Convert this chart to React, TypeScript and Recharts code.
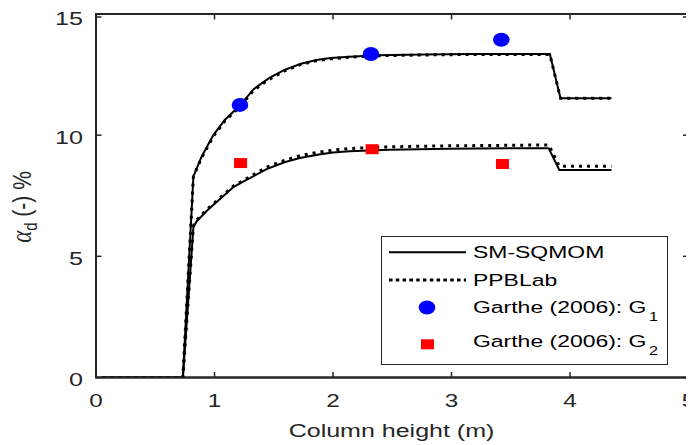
import React from "react";
import {
  ComposedChart,
  Line,
  Scatter,
  XAxis,
  YAxis,
  Legend,
  Label,
  ReferenceArea,
} from "recharts";

// ---------- data ----------
const xTicks = [0, 1, 2, 3, 4, 5];
const yTicks = [0, 5, 10, 15];
const xDomain = [0, 5];
const yDomain = [0, 15];

const g1SolidX = [0.05, 0.733, 0.822, 0.89, 0.99, 1.09, 1.21, 1.33, 1.46, 1.59, 1.73, 1.86, 1.98, 2.14, 2.38, 2.77, 3.17, 3.57, 3.83, 3.92, 4.35];
const g1SolidY = [0, 0, 8.3, 9.1, 10.0, 10.65, 11.2, 11.9, 12.35, 12.69, 12.95, 13.1, 13.18, 13.24, 13.3, 13.33, 13.35, 13.35, 13.35, 11.52, 11.52];
const g1DotY = [0, 0, 8.3, 9.05, 9.95, 10.6, 11.15, 11.85, 12.3, 12.65, 12.92, 13.07, 13.15, 13.22, 13.28, 13.31, 13.33, 13.33, 13.33, 11.52, 11.52];

const g2X = [0.05, 0.733, 0.822, 0.85, 0.94, 1.02, 1.16, 1.25, 1.44, 1.59, 1.72, 1.88, 2.0, 2.14, 2.48, 2.97, 3.47, 3.82, 3.91, 4.35];
const g2SolidY = [0, 0, 6.2, 6.45, 6.9, 7.25, 7.86, 8.1, 8.6, 8.88, 9.06, 9.2, 9.28, 9.34, 9.4, 9.44, 9.46, 9.46, 8.56, 8.56];
const g2DotY = [0, 0, 6.25, 6.5, 6.95, 7.3, 7.9, 8.15, 8.68, 8.96, 9.15, 9.3, 9.38, 9.45, 9.52, 9.56, 9.58, 9.6, 8.72, 8.72];

const garthe1X = [1.215, 2.32, 3.42];
const garthe1Y = [11.25, 13.35, 13.94];
const garthe2X = [1.22, 2.33, 3.43];
const garthe2Y = [8.85, 9.42, 8.81];

const toPts = (xs: number[], ys: number[]) => xs.map((x, i) => ({ x, y: ys[i] }));

const upperSolid = toPts(g1SolidX, g1SolidY);
const upperDot = toPts(g1SolidX, g1DotY);
const lowerSolid = toPts(g2X, g2SolidY);
const lowerDot = toPts(g2X, g2DotY);
const garthe1 = toPts(garthe1X, garthe1Y);
const garthe2 = toPts(garthe2X, garthe2Y);

// ---------- layout / styles ----------
const AX = "#262626";
const FONT = "'Liberation Sans', Arial, sans-serif";
const SX = 1.35;
const TL = 5.5;
const W = 686;
const H = 437;
const M = { top: 6, right: 5.5, bottom: 37.5, left: 0 };
const YW = 88;
const XH = 30;
const PLOT_W = W - M.left - M.right - YW;
const PLOT_H = H - M.top - M.bottom - XH;

const XTick = (props: any) => {
  const x = Number(props.x);
  const y = Number(props.y);
  const { payload } = props;
  return (
    <g>
      <line x1={x} x2={x} y1={y} y2={y - TL} stroke={AX} strokeWidth={1.5} />
      <line x1={x} x2={x} y1={y - PLOT_H} y2={y - PLOT_H + TL} stroke={AX} strokeWidth={1.5} />
      <g transform={`translate(${x},${y + 29}) scale(${SX},1)`}>
        <text textAnchor="middle" fontSize={18} fill={AX} fontFamily={FONT}>
          {payload.value}
        </text>
      </g>
    </g>
  );
};

const YTick = (props: any) => {
  const x = Number(props.x);
  const y = Number(props.y);
  const { payload } = props;
  return (
    <g>
      <line x1={x} x2={x + TL} y1={y} y2={y} stroke={AX} strokeWidth={1.5} />
      <line x1={x + PLOT_W} x2={x + PLOT_W - TL} y1={y} y2={y} stroke={AX} strokeWidth={1.5} />
      <g transform={`translate(${x - 13},${y + 8.4}) scale(1.4,1)`}>
        <text textAnchor="end" fontSize={18} fill={AX} fontFamily={FONT}>
          {payload.value}
        </text>
      </g>
    </g>
  );
};

const Ellipse = (props: any) => {
  const { cx, cy } = props;
  return <ellipse cx={cx} cy={cy} rx={8.3} ry={7} fill="#0000ff" />;
};

const Square = (props: any) => {
  const { cx, cy } = props;
  return <rect x={cx - 6.5} y={cy - 5} width={13} height={10} fill="#ff0000" />;
};

const LegendBox = () => (
  <svg width={287} height={129} style={{ display: "block" }}>
    <rect x={0.5} y={0.5} width={286} height={128} fill="#fff" stroke={AX} strokeWidth={1} />
    <line x1={8} x2={85} y1={16.3} y2={16.3} stroke="#000" strokeWidth={2} />
    <line x1={8} x2={85} y1={44} y2={44} stroke="#000" strokeWidth={3} strokeDasharray="3.5 3.3" />
    <ellipse cx={46} cy={71.5} rx={8.3} ry={7} fill="#0000ff" />
    <rect x={40} y={103.3} width={13} height={10} fill="#ff0000" />
    {[
      { y: 22.4, t: "SM-SQMOM", s: "" },
      { y: 50.1, t: "PPBLab", s: "" },
      { y: 77.4, t: "Garthe (2006): G", s: "1" },
      { y: 110.8, t: "Garthe (2006): G", s: "2" },
    ].map((r, i) => (
      <g key={i} transform={`translate(92,${r.y}) scale(1.35,1)`}>
        <text fontSize={17} fill="#000" fontFamily={FONT}>
          {r.t}
          {r.s ? (
            <tspan fontSize={12} dx={2} dy={8}>
              {r.s}
            </tspan>
          ) : null}
        </text>
      </g>
    ))}
  </svg>
);

const YLabel = () => (
  <g transform="translate(23,199) rotate(-90) scale(1,1.25)">
    <text textAnchor="middle" fontSize={21} fill={AX} fontFamily={FONT}>
      <tspan fontFamily="'Liberation Serif', 'Times New Roman', serif" fontStyle="italic" fontSize={23}>α</tspan>
      <tspan fontSize={15} dy={5}>d</tspan>
      <tspan dy={-5}> (-) %</tspan>
    </text>
  </g>
);

const XLabel = () => (
  <g transform={`translate(383.5,428.5) scale(1.39,1)`}>
    <text textAnchor="middle" fontSize={18} fill={AX} fontFamily={FONT}>
      Column height (m)
    </text>
  </g>
);

export default function App() {
  return (
    <div style={{ width: W, height: H, position: "relative", fontFamily: FONT }}>
      <ComposedChart width={W} height={H} margin={M}>
        <XAxis
          xAxisId="b"
          dataKey="x"
          type="number"
          domain={xDomain}
          ticks={xTicks}
          allowDataOverflow
          height={XH}
          tickSize={0}
          tickMargin={0}
          tick={<XTick />}
          axisLine={{ stroke: AX, strokeWidth: 2 }}
          tickLine={false}
        >
          <Label content={<XLabel />} />
        </XAxis>
        <YAxis
          yAxisId="l"
          dataKey="y"
          type="number"
          domain={yDomain}
          ticks={yTicks}
          allowDataOverflow
          width={YW}
          tickSize={0}
          tickMargin={0}
          tick={<YTick />}
          axisLine={{ stroke: AX, strokeWidth: 2 }}
          tickLine={false}
        >
          <Label content={<YLabel />} />
        </YAxis>
        <ReferenceArea
          xAxisId="b"
          yAxisId="l"
          x1={xDomain[0]}
          x2={xDomain[1]}
          y1={yDomain[0]}
          y2={yDomain[1]}
          fill="none"
          fillOpacity={0}
          stroke={AX}
          strokeWidth={2}
          ifOverflow="visible"
        />
        <Line xAxisId="b" yAxisId="l" data={upperSolid} dataKey="y" type="linear" stroke="#000" strokeWidth={2} dot={false} activeDot={false} isAnimationActive={false} legendType="none" />
        <Line xAxisId="b" yAxisId="l" data={lowerSolid} dataKey="y" type="linear" stroke="#000" strokeWidth={2} dot={false} activeDot={false} isAnimationActive={false} legendType="none" />
        <Line xAxisId="b" yAxisId="l" data={upperDot} dataKey="y" type="linear" stroke="#000" strokeWidth={3} strokeDasharray="3 5" dot={false} activeDot={false} isAnimationActive={false} legendType="none" />
        <Line xAxisId="b" yAxisId="l" data={lowerDot} dataKey="y" type="linear" stroke="#000" strokeWidth={3} strokeDasharray="3 5" dot={false} activeDot={false} isAnimationActive={false} legendType="none" />
        <Scatter xAxisId="b" yAxisId="l" data={garthe1} dataKey="y" shape={<Ellipse />} isAnimationActive={false} />
        <Scatter xAxisId="b" yAxisId="l" data={garthe2} dataKey="y" shape={<Square />} isAnimationActive={false} />
        <Legend
          layout="vertical"
          align="center"
          verticalAlign="middle"
          content={<LegendBox />}
          wrapperStyle={{ position: "absolute", left: 373, top: 228, width: 287, height: 129 }}
        />
      </ComposedChart>
      <div
        style={{
          position: "absolute",
          left: M.left + YW - 1,
          top: M.top - 1,
          width: PLOT_W,
          height: PLOT_H,
          borderTop: `2px solid ${AX}`,
          borderRight: `2px solid ${AX}`,
          pointerEvents: "none",
        }}
      />
    </div>
  );
}
